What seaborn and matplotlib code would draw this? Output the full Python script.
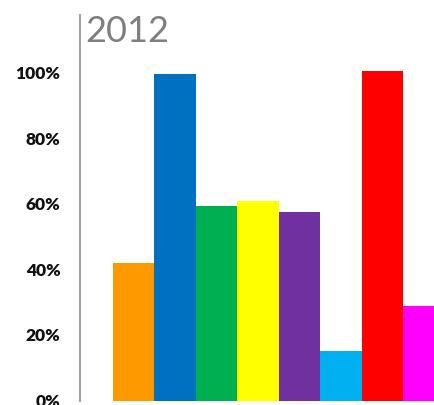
import matplotlib
matplotlib.use("Agg")
import matplotlib.pyplot as plt
import seaborn as sns
import pandas as pd

categories = ["A", "B", "C", "D", "E", "F", "G", "H"]
values = [42.0, 99.5, 59.4, 60.8, 57.5, 15.2, 100.3, 28.8]
colors = ["#FF9900", "#0070C0", "#00B050", "#FFFF00", "#7030A0", "#00B0F0", "#FF0000", "#FF00FF"]
yticks = [0, 20, 40, 60, 80, 100]
yticklabels = ["0%", "20%", "40%", "60%", "80%", "100%"]
title = "2012"

sns.set_style("white")
plt.rcParams["font.family"] = ["Lato", "DejaVu Sans"]

W, H = 435, 405
fig = plt.figure(figsize=(W / 100, H / 100), dpi=100)
ax_left, ax_right = 80, 435
ax_top, ax_bottom = 15, 400.5
ax = fig.add_axes([ax_left / W, (H - ax_bottom) / H, (ax_right - ax_left) / W, (ax_bottom - ax_top) / H])

df = pd.DataFrame({"cat": categories, "val": values})
sns.barplot(data=df, x="cat", y="val", hue="cat", palette=colors, width=1.0,
            linewidth=0, legend=False, ax=ax, saturation=1)

ax.set_xlim(-1.29, 7.27)
ax.set_ylim(0, 117.5)
ax.set_yticks(yticks)
ax.set_yticklabels(yticklabels, fontsize=12.5, fontweight="heavy", color="#111111")
ax.tick_params(axis="y", length=0, pad=14)
ax.set_xticks([])
ax.set_xlabel("")
ax.set_ylabel("")
for s in ["top", "right", "bottom"]:
    ax.spines[s].set_visible(False)
ax.spines["left"].set_color("#A6A6A6")
ax.spines["left"].set_linewidth(1.5)

fig.text(85 / W, (H - 42) / H, title, fontsize=26, fontweight="normal",
         color="#7F7F7F", ha="left", va="baseline")

fig.savefig("out.png", dpi=100)
